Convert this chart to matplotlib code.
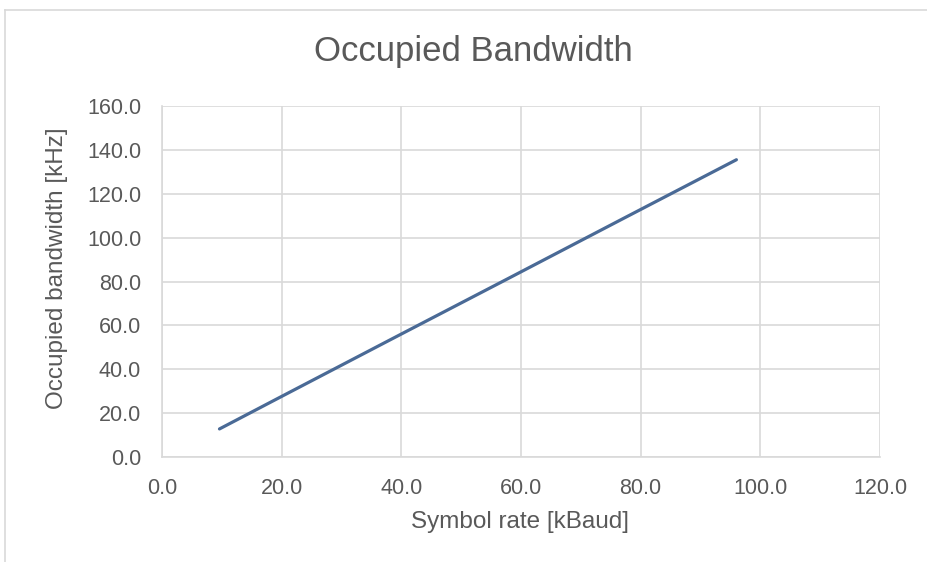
import matplotlib
matplotlib.use('Agg')
import matplotlib.pyplot as plt
from matplotlib.lines import Line2D

# symbol rate [kBaud] vs occupied bandwidth [kHz]
symbol_rate = [9.6, 19.2, 38.4, 48.0, 57.6, 76.8, 96.0]
bandwidth = [12.8, 26.5, 53.8, 67.4, 81.0, 108.3, 135.5]

x_ticks = [0, 20, 40, 60, 80, 100, 120]
y_ticks = [0, 20, 40, 60, 80, 100, 120, 140, 160]

txt = '#595959'
grid = '#d9d9d9'
W, H = 927, 562

plt.rcParams['font.family'] = ['Liberation Sans', 'DejaVu Sans']

fig = plt.figure(figsize=(W / 100, H / 100), dpi=100)
ax = fig.add_axes([0.1748, 0.1868, 0.7745, 0.6246])

ax.plot(symbol_rate, bandwidth, color='#4a6a96', linewidth=2.3, solid_capstyle='round')

ax.set_xlim(0, 120)
ax.set_ylim(0, 160)
ax.set_xticks(x_ticks)
ax.set_yticks(y_ticks)
ax.set_xticklabels([f'{v:.1f}' for v in x_ticks])
ax.set_yticklabels([f'{v:.1f}' for v in y_ticks])
ax.tick_params(length=0, labelsize=15.5, labelcolor=txt)
ax.tick_params(axis='x', pad=15)
ax.tick_params(axis='y', pad=15)

ax.grid(True, color=grid, linewidth=1.2)
ax.set_axisbelow(True)
for s in ['top', 'right']:
    ax.spines[s].set_visible(False)
for s in ['left', 'bottom']:
    ax.spines[s].set_color(grid)
    ax.spines[s].set_linewidth(1.2)

fig.text(473 / W, 1 - 52 / H, 'Occupied Bandwidth', fontsize=25, color=txt,
         ha='center', va='center')
fig.text(520 / W, 1 - 522 / H, 'Symbol rate [kBaud]', fontsize=17.5, color=txt,
         ha='center', va='center')
fig.text(57 / W, 1 - 268 / H, 'Occupied bandwidth [kHz]', fontsize=17.5, color=txt,
         ha='center', va='center', rotation=90)

# chart area border (cropped at right/bottom)
fig.add_artist(Line2D([5 / W, 5 / W], [0, 1 - 10 / H], transform=fig.transFigure,
                      color=grid, linewidth=1.2))
fig.add_artist(Line2D([5 / W, 1], [1 - 10 / H, 1 - 10 / H], transform=fig.transFigure,
                      color=grid, linewidth=1.2))

fig.savefig('out.png', dpi=100)
